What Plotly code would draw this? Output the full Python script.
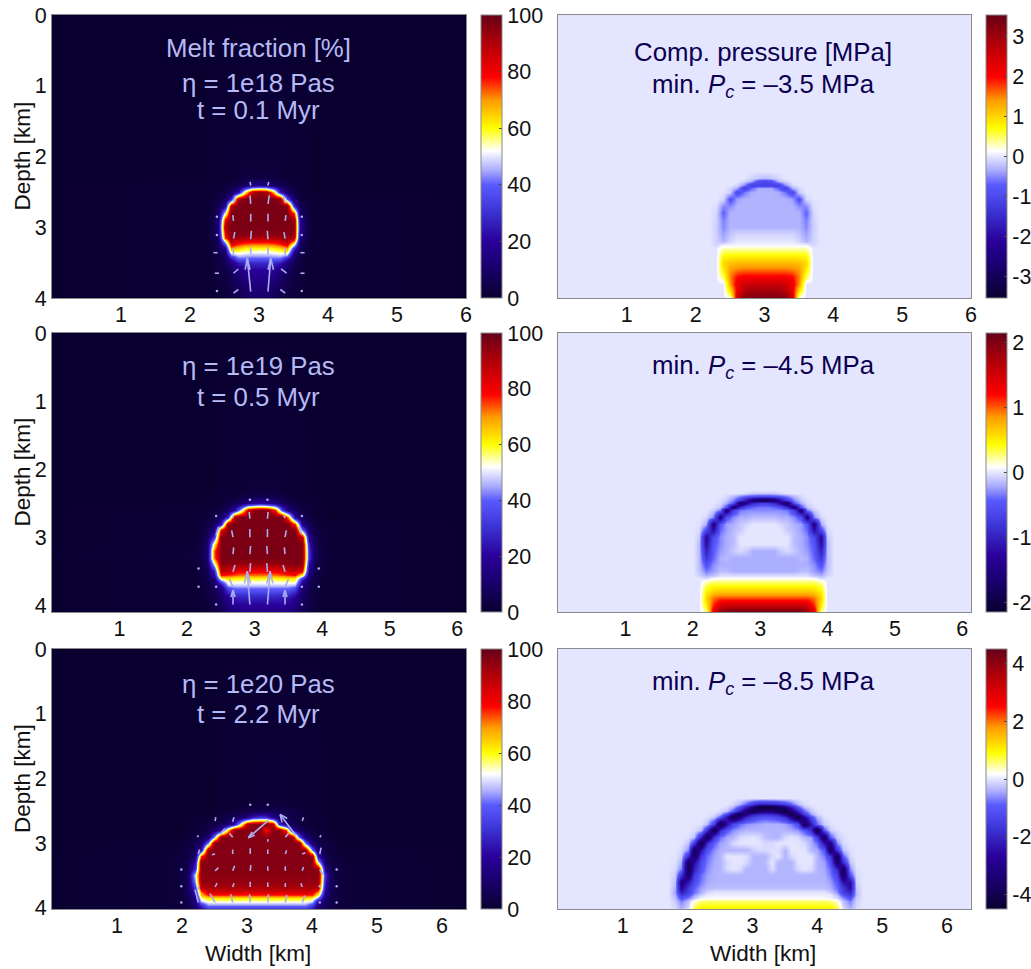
import plotly.graph_objects as go

# ---- axis tick labels, extents (km) ----
width_ticks = [1, 2, 3, 4, 5, 6]
depth_ticks = [0, 1, 2, 3, 4]
x_extent = [6.0, 6.13, 6.37]
depth_extent = [4.0, 4.10, 4.02]
melt_ticks = [0, 20, 40, 60, 80, 100]
p1_ticks = [-3, -2, -1, 0, 1, 2, 3]
p2_ticks = [-2, -1, 0, 1, 2]
p3_ticks = [-4, -2, 0, 2, 4]
p_limits = [3.55, 2.15, 4.5]

# ---- melt fraction [%], read cell by cell ----
melt1_x = [2.2, 2.3, 2.4, 2.5, 2.6, 2.7, 2.8, 2.9, 3.0, 3.1, 3.2, 3.3, 3.4, 3.5, 3.6, 3.7, 3.8]
melt1_depth = [2.2, 2.3, 2.4, 2.5, 2.6, 2.7, 2.8, 2.9, 3.0, 3.1, 3.15, 3.2, 3.25, 3.3, 3.35, 3.4, 3.45, 3.5, 3.6, 3.7, 3.8, 3.9, 4.0]
melt1_z = [
    [0, 1, 1, 1, 1, 2, 2, 2, 2, 2, 2, 2, 1, 1, 1, 1, 0],
    [0, 1, 1, 1, 1, 2, 3, 4, 4, 4, 3, 2, 1, 1, 1, 1, 0],
    [1, 1, 1, 2, 3, 5, 9, 13, 16, 14, 10, 6, 3, 2, 1, 1, 0],
    [1, 1, 2, 4, 8, 21, 60, 89, 94, 91, 68, 26, 9, 4, 2, 1, 0],
    [1, 1, 3, 8, 28, 92, 97, 97, 97, 97, 97, 94, 38, 9, 3, 1, 1],
    [1, 2, 5, 20, 91, 97, 97, 97, 97, 97, 97, 97, 97, 30, 6, 2, 1],
    [1, 2, 8, 52, 97, 97, 97, 97, 97, 97, 97, 97, 97, 75, 10, 3, 1],
    [1, 3, 11, 82, 97, 97, 97, 97, 97, 97, 97, 97, 97, 94, 16, 4, 1],
    [1, 3, 13, 90, 97, 97, 97, 97, 97, 97, 97, 97, 97, 96, 18, 4, 1],
    [1, 3, 11, 82, 96, 96, 96, 96, 95, 95, 96, 96, 96, 94, 16, 4, 1],
    [1, 3, 9, 75, 94, 92, 90, 90, 90, 90, 90, 92, 94, 88, 13, 3, 1],
    [1, 2, 8, 52, 90, 84, 81, 80, 80, 80, 81, 84, 90, 72, 10, 3, 1],
    [1, 2, 7, 32, 80, 74, 71, 70, 70, 70, 71, 74, 80, 48, 8, 2, 1],
    [1, 2, 6, 20, 70, 66, 61, 60, 60, 60, 61, 65, 70, 30, 7, 2, 1],
    [1, 2, 5, 12, 56, 55, 53, 52, 52, 52, 53, 55, 58, 16, 5, 2, 1],
    [1, 2, 4, 9, 36, 46, 45, 44, 44, 44, 45, 46, 40, 10, 4, 1, 1],
    [1, 1, 4, 8, 22, 38, 39, 38, 38, 38, 39, 38, 24, 8, 3, 1, 1],
    [1, 1, 3, 6, 14, 24, 28, 28, 28, 28, 28, 24, 14, 6, 3, 1, 1],
    [1, 1, 3, 4, 9, 14, 19, 20, 20, 20, 19, 14, 9, 4, 2, 1, 1],
    [1, 1, 2, 3, 6, 10, 15, 17, 17, 17, 15, 10, 6, 3, 2, 1, 1],
    [1, 1, 2, 3, 5, 8, 11, 14, 14, 14, 11, 8, 5, 3, 2, 1, 1],
    [1, 1, 1, 2, 4, 6, 9, 12, 12, 12, 9, 6, 4, 2, 1, 1, 1],
    [1, 1, 1, 2, 3, 5, 8, 10, 11, 10, 8, 5, 3, 2, 1, 1, 1],
]

melt2_x = [2.1, 2.2, 2.3, 2.4, 2.5, 2.6, 2.7, 2.8, 2.9, 3.0, 3.1, 3.2, 3.3, 3.4, 3.5, 3.6, 3.7, 3.8, 3.9, 4.0, 4.1]
melt2_depth = [2.3, 2.4, 2.5, 2.6, 2.7, 2.8, 2.9, 3.0, 3.1, 3.2, 3.3, 3.4, 3.5, 3.55, 3.6, 3.65, 3.7, 3.75, 3.8, 3.85, 3.9, 4.0, 4.1]
melt2_z = [
    [0, 0, 0, 0, 1, 1, 1, 1, 2, 2, 2, 2, 2, 1, 1, 1, 1, 0, 0, 0, 0],
    [0, 0, 0, 1, 1, 2, 2, 3, 4, 5, 5, 5, 4, 3, 2, 1, 1, 0, 0, 0, 0],
    [0, 1, 1, 1, 2, 4, 6, 10, 16, 20, 22, 18, 14, 8, 5, 3, 2, 1, 1, 0, 0],
    [1, 1, 1, 2, 4, 9, 20, 50, 88, 95, 97, 94, 78, 34, 14, 7, 3, 2, 1, 1, 0],
    [1, 1, 2, 4, 10, 30, 90, 97, 97, 97, 97, 97, 97, 97, 70, 18, 7, 3, 1, 1, 0],
    [1, 2, 4, 7, 26, 94, 97, 97, 97, 97, 97, 97, 97, 97, 97, 75, 16, 6, 3, 1, 1],
    [1, 2, 5, 16, 82, 97, 97, 97, 97, 97, 97, 97, 97, 97, 97, 97, 42, 9, 4, 2, 1],
    [1, 3, 7, 30, 97, 97, 97, 97, 97, 97, 97, 97, 97, 97, 97, 97, 88, 16, 5, 2, 1],
    [1, 3, 10, 58, 97, 97, 97, 97, 97, 97, 97, 97, 97, 97, 97, 97, 97, 25, 6, 2, 1],
    [2, 4, 11, 73] + [97] * 13 + [30, 7, 3, 1],
    [2, 4, 11, 72] + [97] * 13 + [30, 7, 3, 1],
    [1, 3, 9, 50, 96, 95, 94, 93, 93, 93, 93, 93, 93, 94, 95, 96, 95, 22, 6, 2, 1],
    [1, 3, 7, 26, 88, 85, 82, 80, 80, 80, 80, 80, 80, 82, 85, 88, 82, 15, 6, 2, 1],
    [1, 2, 6, 20, 78, 76, 74, 72, 72, 72, 72, 72, 72, 74, 76, 78, 60, 12, 5, 2, 1],
    [1, 2, 5, 14, 60, 64, 62, 61, 61, 61, 61, 61, 61, 62, 64, 62, 34, 9, 4, 1, 1],
    [1, 2, 4, 10, 40, 56, 55, 54, 54, 54, 54, 54, 54, 55, 56, 56, 22, 8, 3, 1, 1],
    [1, 2, 4, 8, 22, 48, 48, 48, 48, 48, 48, 48, 48, 48, 48, 46, 14, 7, 3, 1, 1],
    [1, 1, 3, 7, 16, 36, 41, 41, 41, 41, 41, 41, 41, 41, 41, 36, 12, 6, 3, 1, 1],
    [1, 1, 3, 6, 13, 28, 35, 35, 35, 35, 35, 35, 35, 35, 34, 28, 11, 5, 2, 1, 1],
    [1, 1, 3, 5, 11, 22, 29, 30, 30, 30, 30, 30, 30, 29, 28, 22, 10, 5, 2, 1, 1],
    [1, 1, 2, 5, 10, 18, 24, 26, 26, 26, 26, 26, 26, 25, 24, 18, 9, 4, 2, 1, 1],
    [1, 1, 2, 4, 8, 14, 18, 20, 20, 20, 20, 20, 20, 20, 18, 14, 8, 4, 2, 1, 1],
    [1, 1, 2, 3, 7, 11, 14, 15, 16, 16, 16, 16, 16, 15, 14, 11, 7, 3, 2, 1, 1],
]

melt3_x = [1.9, 2.0, 2.1, 2.2, 2.3, 2.4, 2.5, 2.6, 2.7, 2.8, 2.9, 3.0, 3.1, 3.2, 3.3, 3.4, 3.5, 3.6, 3.7, 3.8, 3.9, 4.0, 4.1, 4.2, 4.3, 4.4, 4.5]
melt3_depth = [2.4, 2.5, 2.6, 2.7, 2.8, 2.9, 3.0, 3.1, 3.2, 3.3, 3.4, 3.5, 3.6, 3.7, 3.75, 3.8, 3.85, 3.9, 3.95, 4.0]
melt3_z = [
    [0, 0, 0, 0, 0, 0, 0, 1, 1, 1, 1, 1, 1, 2, 2, 2, 2, 2, 1, 1, 1, 1, 1, 0, 0, 0, 0],
    [0, 0, 0, 0, 0, 0, 1, 1, 1, 2, 3, 4, 5, 6, 6, 7, 6, 5, 4, 3, 2, 1, 1, 0, 0, 0, 0],
    [0, 0, 0, 1, 1, 1, 2, 3, 5, 7, 10, 14, 26, 30, 30, 15, 9, 6, 4, 3, 2, 1, 1, 1, 0, 0, 0],
    [0, 0, 1, 1, 2, 3, 4, 6, 10, 22, 50, 88, 96, 96, 96, 88, 30, 13, 6, 3, 2, 1, 1, 1, 0, 0, 0],
    [0, 0, 1, 1, 3, 5, 10, 22, 60, 96, 96, 96, 96, 96, 78, 96, 96, 75, 22, 9, 4, 3, 1, 1, 0, 0, 0],
    [0, 1, 2, 3, 5, 11, 42] + [96] * 12 + [38, 13, 6, 3, 2, 1, 0, 0],
    [1, 2, 3, 5, 10, 42] + [96] * 14 + [42, 11, 5, 3, 2, 1, 0],
    [1, 2, 4, 7, 24, 94] + [96] * 15 + [42, 9, 4, 2, 1, 1],
    [2, 3, 4, 11, 75] + [96] * 17 + [22, 6, 3, 2, 1],
    [2, 3, 5, 22] + [96] * 18 + [50, 9, 3, 2, 1],
    [2, 3, 7, 30] + [96] * 18 + [94, 18, 5, 3, 2],
    [2, 3, 9, 50] + [95] * 18 + [96, 30, 7, 3, 2],
    [2, 3, 9, 44] + [94] * 18 + [94, 26, 7, 3, 2],
    [2, 3, 8, 32, 88] + [90] * 17 + [88, 22, 7, 3, 2],
    [2, 3, 8, 26, 72] + [84] * 17 + [70, 18, 6, 3, 2],
    [2, 3, 7, 20, 66] + [76] * 17 + [58, 14, 6, 3, 2],
    [2, 3, 6, 16, 56] + [62] * 16 + [60, 40, 12, 5, 3, 2],
    [2, 3, 5, 14, 48] + [54] * 16 + [50, 22, 9, 4, 3, 2],
    [2, 3, 5, 12, 34] + [46] * 16 + [38, 16, 8, 4, 3, 2],
    [2, 3, 4, 10, 22] + [34] * 16 + [26, 12, 7, 4, 2, 2],
]

# ---- compaction pressure [MPa], read cell by cell ----
press1_x = [2.1, 2.2, 2.3, 2.4, 2.5, 2.6, 2.7, 2.8, 2.9, 3.0, 3.1, 3.2, 3.3, 3.4, 3.5, 3.6, 3.7, 3.8, 3.9]
press1_depth = [2.2, 2.3, 2.35, 2.4, 2.45, 2.5, 2.6, 2.7, 2.8, 2.9, 3.0, 3.1, 3.2, 3.25, 3.3, 3.4, 3.5, 3.6, 3.7, 3.8, 3.9, 4.0]
press1_z = [
    [0] * 19,
    [0] * 7 + [-.1, -.2, -.25, -.2, -.1] + [0] * 7,
    [0] * 6 + [-.1, -.3, -.9, -1, -.9, -.3, -.1] + [0] * 6,
    [0] * 5 + [-.1, -.5, -1.2, -1.1, -1.2, -1.1, -1.2, -.5, -.1] + [0] * 5,
    [0] * 4 + [-.1, -.35, -1.2, -.7, -.35, -.35, -.35, -.7, -1.2, -.35, -.1] + [0] * 4,
    [0] * 4 + [-.15, -1.0, -.6, -.35, -.3, -.3, -.3, -.35, -.6, -1.0, -.15] + [0] * 4,
    [0] * 3 + [-.1, -.85, -.4] + [-.3] * 7 + [-.4, -.85, -.1] + [0] * 3,
    [0] * 2 + [-.05, -.5, -.5] + [-.3] * 9 + [-.5, -.5, -.05] + [0] * 2,
    [0] * 2 + [-.1, -.7, -.3] + [-.3] * 9 + [-.3, -.7, -.1] + [0] * 2,
    [0] * 2 + [-.12, -.55] + [-.3] * 11 + [-.55, -.12] + [0] * 2,
    [0] * 2 + [-.15, -.5] + [-.3] * 11 + [-.5, -.15] + [0] * 2,
    [0] * 2 + [-.12, -.4, -.2] + [-.1] * 9 + [-.2, -.4, -.12] + [0] * 2,
    [0] * 2 + [-.12, -.3, -.1] + [0] * 9 + [-.1, -.3, -.12] + [0] * 2,
    [0] * 2 + [-.1] + [.08] * 13 + [-.1] + [0] * 2,
    [0] * 3 + [.3] * 13 + [0] * 3,
    [0] * 3 + [.75] + [.8] * 11 + [.75] + [0] * 3,
    [0] * 3 + [1.0, 1.15] + [1.2] * 9 + [1.15, 1.0] + [0] * 3,
    [0] * 3 + [.8, 1.4, 1.55] + [1.6] * 7 + [1.55, 1.4, .8] + [0] * 3,
    [0] * 3 + [.5, 1.5, 2.0, 2.1] + [2.1] * 5 + [2.1, 2.0, 1.5, .5] + [0] * 3,
    [0] * 4 + [1.4, 2.2, 2.5, 2.6] + [2.6] * 3 + [2.6, 2.5, 2.2, 1.4] + [0] * 4,
    [0] * 4 + [.9, 2.2, 2.8, 3.0, 3.0, 3.0, 3.0, 3.0, 2.8, 2.2, .9] + [0] * 4,
    [0] * 4 + [.1, 2.6, 3.3, 3.3, 3.3, 3.3, 3.3, 3.3, 3.3, 2.6, .1] + [0] * 4,
]

press2_x = [2.0, 2.1, 2.2, 2.3, 2.4, 2.5, 2.6, 2.7, 2.8, 2.9, 3.0, 3.1, 3.2, 3.3, 3.4, 3.5, 3.6, 3.7, 3.8, 3.9, 4.0, 4.1]
press2_depth = [2.3, 2.35, 2.4, 2.45, 2.5, 2.55, 2.6, 2.7, 2.8, 2.9, 3.0, 3.1, 3.2, 3.3, 3.4, 3.5, 3.55, 3.6, 3.65, 3.7, 3.8, 3.9, 4.0, 4.1]
press2_z = [
    [0] * 22,
    [0] * 8 + [-.05, -.1, -.1, -.1, -.1, -.05] + [0] * 8,
    [0, 0, 0, 0, 0, -.05, -.15, -.3, -.45, -.5, -.55, -.55, -.5, -.45, -.3, -.15, -.05, 0, 0, 0, 0, 0],
    [0, 0, 0, 0, -.03, -.1, -.3, -.7, -1.2, -1.7, -1.9, -1.9, -1.7, -1.2, -.7, -.3, -.1, -.03, 0, 0, 0, 0],
    [0, 0, 0, 0, -.05, -.2, -.5, -1.8, -1.3, -.9, -.7, -.7, -.9, -1.3, -1.8, -.5, -.2, -.05, 0, 0, 0, 0],
    [0, 0, 0, -.02, -.12, -.5, -1.7, -.9, -.5, -.4, -.35, -.35, -.4, -.5, -.9, -1.7, -.5, -.12, -.02, 0, 0, 0],
    [0, 0, 0, -.08, -.35, -1.6, -.7, -.35, -.3, -.3, -.3, -.3, -.3, -.3, -.35, -.7, -1.6, -.35, -.08, 0, 0, 0],
    [0, 0, -.05, -.3, -1.5, -.55, -.3, -.2, -.2, -.15, -.15, -.15, -.15, -.2, -.2, -.3, -.55, -1.5, -.3, -.05, 0, 0],
    [0, -.02, -.2, -1.5, -.5, -.25, -.2, -.1, -.05, 0, 0, 0, 0, -.05, -.1, -.2, -.25, -.5, -1.5, -.2, -.02, 0],
    [0, -.05, -.6, -1.2, -.4, -.25, -.15, -.1, 0, 0, 0, 0, 0, 0, -.1, -.15, -.25, -.4, -1.2, -.6, -.05, 0],
    [0, -.1, -1.3, -.6, -.3, -.2, -.15, 0, 0, 0, 0, 0, 0, 0, 0, -.15, -.2, -.3, -.6, -1.3, -.1, 0],
    [0, -.15, -1.2, -.5, -.3, -.2, -.15, 0, 0, 0, 0, 0, 0, 0, 0, -.15, -.2, -.3, -.5, -1.2, -.15, 0],
    [0, -.15, -1.0, -.45, -.25, -.2, -.1, -.05, -.1, -.2, -.2, -.2, -.2, -.1, -.05, -.1, -.2, -.25, -.45, -1.0, -.15, 0],
    [0, -.15, -.8, -.4, -.2, -.15, -.2, -.2, -.2, -.2, -.2, -.2, -.2, -.2, -.2, -.2, -.15, -.2, -.4, -.8, -.15, 0],
    [0, -.15, -.55, -.3, -.2, -.2, -.2, -.2, -.2, -.2, -.2, -.2, -.2, -.2, -.2, -.2, -.2, -.2, -.3, -.55, -.15, 0],
    [0, -.12, -.35, -.25, -.15, -.15, -.2, -.2, -.2, -.2, -.2, -.2, -.2, -.2, -.2, -.2, -.15, -.15, -.25, -.35, -.12, 0],
    [0, -.08, -.2, -.15, -.05, -.03, -.05, -.05, -.05, -.05, -.05, -.05, -.05, -.05, -.05, -.05, -.03, -.05, -.15, -.2, -.08, 0],
    [0, 0, -.05, .05] + [.08] * 14 + [.05, -.05, 0, 0],
    [0, 0, .15] + [.25] * 16 + [.15, 0, 0],
    [0, 0, .3] + [.4] * 16 + [.3, 0, 0],
    [0, 0, .5, .65] + [.7] * 14 + [.65, .5, 0, 0],
    [0, 0, .6, .95] + [1.05] * 14 + [.95, .6, 0, 0],
    [0, 0, .5, 1.1, 1.45] + [1.55] * 12 + [1.45, 1.1, .5, 0, 0],
    [0, 0, .2, 1.4, 1.9] + [2.1] * 12 + [1.9, 1.4, .2, 0, 0],
]

press3_x = [1.7, 1.8, 1.9, 2.0, 2.1, 2.2, 2.3, 2.4, 2.5, 2.6, 2.7, 2.8, 2.9, 3.0, 3.1, 3.2, 3.3, 3.4, 3.5, 3.6, 3.7, 3.8, 3.9, 4.0, 4.1, 4.2, 4.3, 4.4, 4.5, 4.6, 4.7]
press3_depth = [2.3, 2.4, 2.45, 2.5, 2.55, 2.6, 2.7, 2.8, 2.9, 3.0, 3.1, 3.2, 3.3, 3.4, 3.5, 3.6, 3.7, 3.75, 3.8, 3.85, 3.9, 4.0]
press3_z = [
    [0] * 31,
    [0] * 9 + [0, -.1, -.4, -.9, -1.6, -2, -2, -1.9, -1.7, -1.4, -.9, -.3, -.1] + [0] * 9,
    [0] * 9 + [-.1, -.4, -1.2, -2.2, -3.2, -4.4, -4.4, -4.4, -4, -3.2, -2.2, -1, -.3, -.1] + [0] * 8,
    [0] * 8 + [-.1, -.3, -1, -2.2, -3.3, -4.3, -3.4, -3.2, -3.2, -3.8, -4.3, -3.3, -2, -.9, -.25, -.05] + [0] * 7,
    [0] * 7 + [-.1, -.35, -1.3, -2.8, -4.2, -3, -2.2, -1.9, -1.8, -1.9, -2.2, -3, -4.2, -3, -1.5, -.5, -.1] + [0] * 7,
    [0] * 6 + [-.05, -.25, -1, -2.5, -4.2, -3, -1.9, -1.4, -1.1, -1.0, -1.1, -1.3, -1.8, -3, -4.3, -2.8, -1.2, -.4, -.05] + [0] * 6,
    [0] * 5 + [-.05, -.3, -1.5, -4.3, -2.4, -1.3, -.8, -.6, -.5, -.45, -.4, -.4, -.4, -.5, -.7, -1.2, -4, -2.2, -.8, -.2, -.05] + [0] * 5,
    [0] * 4 + [-.05, -.3, -1.8, -4.3, -1.9, -1, -.6, -.45, -.37, -.37, -.37, -.37, -.37, -.37, -.37, -.45, -.6, -1, -1.9, -4.3, -1, -.2, -.05] + [0] * 4,
    [0] * 3 + [-.05, -.3, -2, -4.1, -1.6, -.8, -.45, -.37, -.1, -.05, 0, -.1, -.3, -.37, -.37, -.1, 0, -.1, -.37, -.5, -1.5, -4, -1, -.2, -.05] + [0] * 3,
    [0] * 2 + [-.02, -.25, -1.5, -4.3, -1.8, -.9, -.5, -.37, -.1, 0, 0, 0, 0, -.1, -.1, 0, 0, 0, 0, -.1, -.4, -.8, -2.4, -3.2, -.6, -.1, 0] + [0] * 2,
    [0] * 2 + [-.1, -.6, -4, -2.4, -1.1, -.6, -.4, -.37, -.37, -.37, -.37, -.2, -.1, -.1, -.05, -.05, -.37, 0, 0, 0, -.37, -.45, -1, -3.8, -1.6, -.3, -.05] + [0] * 2,
    [0, -.02, -.2, -1.8, -3.8, -1.6, -.8, -.5, -.37, 0, 0, 0, -.05, -.37, -.37, -.37, -.1, 0, -.37, -.1, 0, 0, 0, -.37, -.7, -1.6, -4, -.9, -.1, 0, 0],
    [0, -.05, -.4, -3.8, -2.6, -1.2, -.7, -.45, -.37, -.1, 0, 0, -.1, -.37, -.37, -.3, 0, -.37, -.37, -.37, 0, 0, 0, -.37, -.5, -1.1, -3.6, -1.8, -.25, 0, 0],
    [0, -.1, -.7, -4, -2.1, -1.1, -.6, -.4, -.37, -.1, 0, -.1, -.37, -.37, -.37, -.37, -.1, -.37, -.37, -.37, -.1, 0, -.1, -.37, -.45, -.8, -2, -3.8, -.6, -.05, 0],
    [0, -.2, -1.7, -3.6, -1.6, -.8, -.5, -.4] + [-.37] * 16 + [-.4, -.7, -1.4, -3.8, -1.1, -.1, 0],
    [0, -.3, -3.2, -2.3, -1.2, -.7, -.45] + [-.37] * 18 + [-.5, -1, -2.4, -2.6, -.15, 0],
    [0, -.4, -2.8, -1.6, -.9, -.5, -.35] + [-.3] * 18 + [-.4, -.8, -1.6, -2.6, -.25, 0],
    [0, -.5, -2.2, -1.5, -.8, -.4, -.15] + [0] * 18 + [-.2, -.6, -1.5, -2, -.3, 0],
    [0, -.4, -1.6, -1.1, -.5, -.15] + [.05] * 20 + [-.3, -1, -1.6, -.3, 0],
    [0, -.3, -1.1, -.7, -.25, .1] + [.15] * 19 + [.1, -.1, -.6, -1.1, -.2, 0],
    [0, -.2, -.7, -.3, .3, .55] + [.6] * 19 + [.55, .3, -.3, -.7, -.15, 0],
    [0, -.1, -.4, -.1, .7, 1.0] + [1.0] * 19 + [1.0, .7, -.1, -.4, -.1, 0],
]

# ---- velocity arrows (x0, depth0, x1, depth1) in km, and tiny vectors ----
arrows1 = [
    (2.88, 2.41, 2.87, 2.36), (3.13, 2.41, 3.14, 2.36),
    (2.63, 2.66, 2.66, 2.55), (2.88, 2.67, 2.87, 2.55), (3.13, 2.67, 3.15, 2.55), (3.38, 2.66, 3.35, 2.55),
    (2.63, 2.91, 2.62, 2.83), (2.88, 2.92, 2.88, 2.81), (3.13, 2.92, 3.13, 2.81), (3.38, 2.91, 3.39, 2.83),
    (2.63, 3.16, 2.65, 3.07), (2.88, 3.17, 2.89, 3.05), (3.13, 3.17, 3.12, 3.05), (3.38, 3.16, 3.36, 3.07),
    (2.63, 3.40, 2.63, 3.30), (2.88, 3.38, 2.88, 3.28), (3.13, 3.38, 3.13, 3.28), (3.38, 3.40, 3.38, 3.30),
    (2.34, 3.36, 2.40, 3.36), (3.66, 3.36, 3.60, 3.36), (2.36, 3.65, 2.42, 3.65), (3.66, 3.65, 3.60, 3.65),
    (2.63, 3.65, 2.70, 3.59), (3.40, 3.65, 3.32, 3.59), (2.63, 3.93, 2.70, 3.88), (3.38, 3.93, 3.31, 3.88),
    (2.88, 3.91, 2.83, 3.44), (3.13, 3.91, 3.17, 3.44),
    (2.83, 3.44, 2.80, 3.60), (2.83, 3.44, 2.87, 3.60), (3.17, 3.44, 3.13, 3.60), (3.17, 3.44, 3.21, 3.60),
]
dots1_x = [2.39, 3.62, 2.39, 3.62, 2.39, 3.62]
dots1_y = [2.85, 2.85, 3.11, 3.11, 3.90, 3.90]

arrows2 = [
    (2.68, 2.72, 2.69, 2.68), (2.93, 2.73, 2.92, 2.63), (3.19, 2.73, 3.20, 2.63), (3.45, 2.72, 3.43, 2.67),
    (2.43, 2.97, 2.47, 2.85), (3.70, 2.97, 3.66, 2.85),
    (2.68, 3.0, 2.66, 2.9), (2.93, 3.0, 2.93, 2.88), (3.19, 3.0, 3.19, 2.88), (3.45, 3.0, 3.47, 2.9),
    (2.68, 3.25, 2.69, 3.15), (2.93, 3.25, 2.94, 3.13), (3.19, 3.25, 3.18, 3.13), (3.45, 3.25, 3.44, 3.15),
    (2.68, 3.51, 2.71, 3.41), (2.93, 3.51, 2.94, 3.38), (3.19, 3.51, 3.18, 3.38), (3.45, 3.51, 3.42, 3.41),
    (2.68, 3.73, 2.63, 3.62), (3.45, 3.73, 3.50, 3.62),
    (2.93, 3.99, 2.89, 3.5), (3.19, 3.99, 3.23, 3.5), (2.68, 3.99, 2.68, 3.78), (3.45, 3.99, 3.45, 3.78),
    (2.89, 3.5, 2.85, 3.68), (2.89, 3.5, 2.94, 3.68), (3.23, 3.5, 3.18, 3.68), (3.23, 3.5, 3.27, 3.68),
    (2.68, 3.78, 2.65, 3.88), (2.68, 3.78, 2.71, 3.88), (3.45, 3.78, 3.42, 3.88), (3.45, 3.78, 3.48, 3.88),
]
dots2_x = [2.93, 3.19, 2.43, 3.70, 2.17, 2.17, 2.43, 2.43, 3.70, 3.70, 3.95, 3.95]
dots2_y = [2.45, 2.45, 2.69, 2.69, 3.46, 3.73, 3.73, 3.99, 3.73, 3.99, 3.73, 3.46]

arrows3 = [
    (2.51, 2.66, 2.52, 2.60), (2.78, 2.67, 2.80, 2.60), (3.85, 2.66, 3.87, 2.60),
    (3.33, 2.65, 3.02, 2.92), (3.02, 2.92, 3.08, 2.83), (3.02, 2.92, 3.12, 2.88),
    (3.75, 2.88, 3.51, 2.56), (3.51, 2.56, 3.54, 2.68), (3.51, 2.56, 3.62, 2.62),
    (2.58, 2.87, 2.66, 2.78), (2.78, 2.91, 2.73, 2.85), (3.32, 2.98, 3.32, 2.94), (3.59, 2.91, 3.64, 2.85),
    (2.25, 2.91, 2.24, 2.88), (4.12, 2.91, 4.14, 2.88),
    (2.25, 3.17, 2.27, 3.10), (2.78, 3.17, 2.78, 3.10), (3.05, 3.17, 3.05, 3.08), (3.32, 3.17, 3.32, 3.10),
    (3.59, 3.17, 3.61, 3.11), (3.85, 3.17, 3.90, 3.15), (4.12, 3.17, 4.14, 3.07), (2.46, 3.18, 2.51, 3.17),
    (2.51, 3.43, 2.56, 3.38), (2.78, 3.43, 2.81, 3.35), (3.05, 3.43, 3.06, 3.34), (3.32, 3.43, 3.32, 3.36),
    (3.59, 3.43, 3.59, 3.36), (3.85, 3.43, 3.87, 3.37), (4.12, 3.41, 4.17, 3.49),
    (2.51, 3.68, 2.54, 3.62), (2.78, 3.68, 2.80, 3.62), (3.05, 3.68, 3.05, 3.60), (3.32, 3.68, 3.32, 3.61),
    (3.59, 3.68, 3.59, 3.62), (3.85, 3.68, 3.83, 3.62), (2.25, 3.72, 2.25, 3.67),
    (2.51, 3.92, 2.43, 3.78), (2.78, 3.92, 2.75, 3.79), (3.05, 3.92, 3.04, 3.79), (3.32, 3.92, 3.33, 3.79),
    (3.59, 3.92, 3.61, 3.80), (3.85, 3.92, 3.89, 3.81), (2.25, 3.92, 2.20, 3.72),
]
dots3_x = [3.05, 3.32, 1.99, 4.38, 1.99, 4.38, 4.12, 1.99, 4.38, 4.12]
dots3_y = [2.41, 2.41, 3.41, 3.41, 3.67, 3.67, 3.67, 3.92, 3.92, 3.92]

# ---- texts ----
melt_labels = [
    [("Melt fraction [%]", 48), ("η = 1e18 Pas", 83), ("t = 0.1 Myr", 110)],
    [("η = 1e19 Pas", 366), ("t = 0.5 Myr", 397)],
    [("η = 1e20 Pas", 684), ("t = 2.2 Myr", 714)],
]
press_labels = [
    [("Comp. pressure [MPa]", 52), ("min. <i>P</i><sub><i>c</i></sub> = –3.5 MPa", 86)],
    [("min. <i>P</i><sub><i>c</i></sub> = –4.5 MPa", 367)],
    [("min. <i>P</i><sub><i>c</i></sub> = –8.5 MPa", 683)],
]

# ---- layout in pixels and style ----
W, H = 1031, 969
FONT = "Liberation Sans"
rows_px = [(15, 298), (333, 612), (649, 909)]
left_px, right_px = (52, 466), (558, 971)
cbar_px = [481, 986]
ARROW = "#a9adf0"
SCALE = [
    [0.0, "#0a0030"], [0.1, "#170068"], [0.2, "#2a0099"], [0.3, "#3a30d0"], [0.4, "#5a5aff"],
    [0.45, "#a8aaff"], [0.5, "#e4e6ff"], [0.52, "#ffffff"], [0.55, "#ffffa0"], [0.6, "#ffff00"],
    [0.7, "#ff9a00"], [0.78, "#ff0000"], [0.9, "#b00008"], [1.0, "#660018"],
]


def px_x(p):
    return p / W


def px_y(p):
    return 1 - p / H


def full_grid(x, depth, z, xmax):
    """Add the uniform background around the typed block (outer rows/columns only)."""
    xs = [0] + list(x) + [xmax]
    ys = [0] + list(depth)
    zs = [[0] * len(xs)] + [[0] + list(r) + [0] for r in z]
    return xs, ys, zs


def segments(arrows):
    xs, ys = [], []
    for x0, y0, x1, y1 in arrows:
        xs += [x0, x1, None]
        ys += [y0, y1, None]
    return xs, ys


fig = go.Figure()
melts = [(melt1_x, melt1_depth, melt1_z), (melt2_x, melt2_depth, melt2_z), (melt3_x, melt3_depth, melt3_z)]
presses = [(press1_x, press1_depth, press1_z), (press2_x, press2_depth, press2_z), (press3_x, press3_depth, press3_z)]
arrows = [arrows1, arrows2, arrows3]
dots = [(dots1_x, dots1_y), (dots2_x, dots2_y), (dots3_x, dots3_y)]
ptks = [p1_ticks, p2_ticks, p3_ticks]
annotations = []
layout = {}


def colorbar(x_px, row, vals):
    t, b = rows_px[row]
    return dict(
        x=px_x(x_px), xanchor="left", xpad=0, ypad=0,
        y=px_y((t + b) / 2), yanchor="middle",
        len=(b - t) / H, lenmode="fraction",
        thickness=21, thicknessmode="pixels",
        outlinewidth=1, outlinecolor="#8a8a8a",
        tickvals=vals, ticktext=[str(v) for v in vals],
        ticks="inside", ticklen=3, tickcolor="#444", tickwidth=1,
        tickfont=dict(family=FONT, size=21.5, color="#111"),
    )


for r in range(3):
    t, b = rows_px[r]
    lx = 2 * r + 1
    rx = 2 * r + 2
    for ax, dom in ((lx, left_px), (rx, right_px)):
        sfx = "" if ax == 1 else str(ax)
        layout["xaxis" + sfx] = dict(
            domain=[px_x(dom[0]), px_x(dom[1])], range=[0, x_extent[r]],
            anchor="y" + sfx, tickvals=width_ticks, ticks="", ticklabelstandoff=-3,
            tickfont=dict(family=FONT, size=21.5, color="#111"),
            showline=True, mirror=True, linecolor="#8a8a8a", linewidth=1,
            showgrid=False, zeroline=False,
        )
        layout["yaxis" + sfx] = dict(
            domain=[px_y(b), px_y(t)], range=[depth_extent[r], 0],
            anchor="x" + sfx, tickvals=depth_ticks, ticks="", showticklabels=(ax % 2 == 1),
            tickfont=dict(family=FONT, size=21.5, color="#111"),
            showline=True, mirror=True, linecolor="#8a8a8a", linewidth=1,
            showgrid=False, zeroline=False,
        )

    sl = "" if lx == 1 else str(lx)
    sr = str(rx)
    xs, ys, zs = full_grid(*melts[r], x_extent[r])
    fig.add_trace(go.Heatmap(
        x=xs, y=ys, z=zs, zsmooth="best", zmin=0, zmax=100, colorscale=SCALE,
        xaxis="x" + sl, yaxis="y" + sl, colorbar=colorbar(cbar_px[0], r, melt_ticks), hoverinfo="skip",
    ))
    ax_, ay_ = segments(arrows[r])
    fig.add_trace(go.Scatter(
        x=ax_, y=ay_, mode="lines", line=dict(color=ARROW, width=1.6),
        xaxis="x" + sl, yaxis="y" + sl, showlegend=False, hoverinfo="skip",
    ))
    fig.add_trace(go.Scatter(
        x=dots[r][0], y=dots[r][1], mode="markers", marker=dict(color=ARROW, size=2.5),
        xaxis="x" + sl, yaxis="y" + sl, showlegend=False, hoverinfo="skip",
    ))
    xs, ys, zs = full_grid(*presses[r], x_extent[r])
    fig.add_trace(go.Heatmap(
        x=xs, y=ys, z=zs, zsmooth="best", zmin=-p_limits[r], zmax=p_limits[r], colorscale=SCALE,
        xaxis="x" + sr, yaxis="y" + sr, colorbar=colorbar(cbar_px[1], r, ptks[r]), hoverinfo="skip",
    ))

    for text, y in melt_labels[r]:
        annotations.append(dict(
            text=text, x=px_x(258), y=px_y(y), xref="paper", yref="paper", showarrow=False,
            font=dict(family=FONT, size=25.8, color="#b6baf4"), xanchor="center", yanchor="middle",
        ))
    for text, y in press_labels[r]:
        annotations.append(dict(
            text=text, x=px_x(763), y=px_y(y), xref="paper", yref="paper", showarrow=False,
            font=dict(family=FONT, size=25.8, color="#0d0050"), xanchor="center", yanchor="middle",
        ))
    annotations.append(dict(
        text="Depth [km]", x=px_x(22), y=px_y((t + b) / 2), xref="paper", yref="paper",
        showarrow=False, textangle=-90, font=dict(family=FONT, size=22.5, color="#111"),
        xanchor="center", yanchor="middle",
    ))

for cx in (258, 763):
    annotations.append(dict(
        text="Width [km]", x=px_x(cx), y=px_y(953), xref="paper", yref="paper", showarrow=False,
        font=dict(family=FONT, size=22.5, color="#111"), xanchor="center", yanchor="middle",
    ))

fig.update_layout(
    width=W, height=H, margin=dict(l=0, r=0, t=0, b=0, autoexpand=False),
    paper_bgcolor="white", plot_bgcolor="white", showlegend=False,
    annotations=annotations, **layout,
)
fig.write_html("out.html", config={"displayModeBar": False}, post_script="document.body.style.margin='0';")
